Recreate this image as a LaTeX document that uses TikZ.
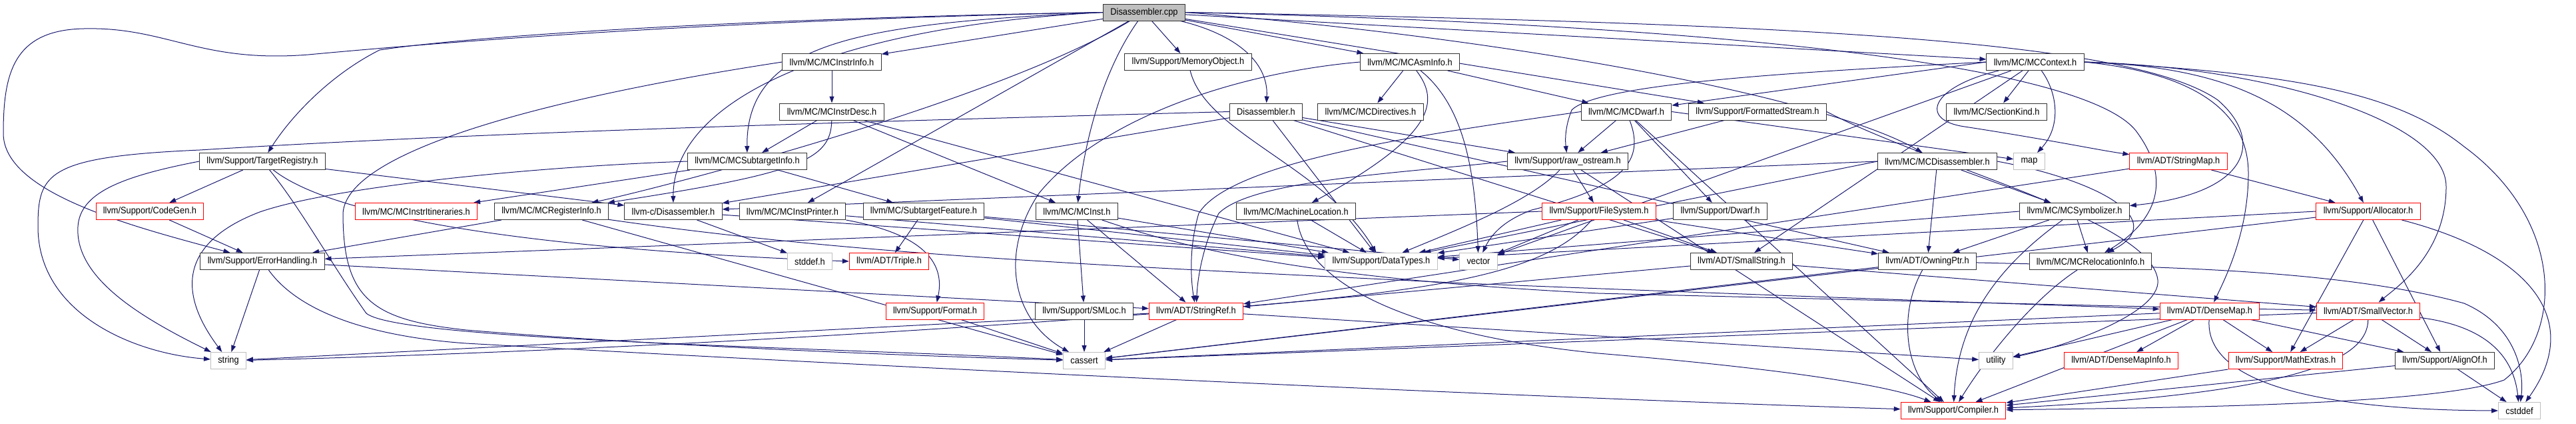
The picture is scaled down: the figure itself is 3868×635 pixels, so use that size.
\documentclass[tikz,border=0pt]{standalone}
\usepackage{fontspec}
\setmainfont[FakeStretch=0.915]{Liberation Sans}
\usepackage{tikz}
\usetikzlibrary{arrows.meta,backgrounds}
\definecolor{incline}{HTML}{191970}
\definecolor{truncred}{HTML}{FF0000}
\definecolor{sysgray}{HTML}{BFBFBF}
\tikzset{
  hdr/.style={draw=black!80, fill=white, line width=1pt, inner xsep=10.8pt, inner ysep=0pt,
    minimum height=25pt, font=\fontsize{14}{14}\selectfont},
  trunc/.style={hdr, draw=truncred},
  syshdr/.style={hdr, draw=sysgray},
  srcfile/.style={hdr, fill=sysgray},
  dep/.style={draw=incline, line width=1pt, -{Triangle[length=10pt,width=7pt]}},
}

\begin{document}
\begin{tikzpicture}[x=1pt,y=-1pt]
  \useasboundingbox (0,0) rectangle (3868,635);

  \node[srcfile] (root) at (1718,18.5) {Disassembler.cpp};

  \node[hdr] (MII) at (1249,93) {llvm/MC/MCInstrInfo.h};
  \node[hdr] (MemObj) at (1784,93) {llvm/Support/MemoryObject.h};
  \node[hdr] (AsmInfo) at (2117,93) {llvm/MC/MCAsmInfo.h};
  \node[hdr] (Ctx) at (3056,93) {llvm/MC/MCContext.h};

  \node[hdr] (Desc) at (1249,167.5) {llvm/MC/MCInstrDesc.h};
  \node[hdr] (DisH) at (1901,167.5) {Disassembler.h};
  \node[hdr] (Dir) at (2058,167.5) {llvm/MC/MCDirectives.h};
  \node[hdr] (Dwarf) at (2442,167.5) {llvm/MC/MCDwarf.h};
  \node[hdr] (FStream) at (2639,167.5) {llvm/Support/FormattedStream.h};
  \node[hdr] (SecKind) at (2998,167.5) {llvm/MC/SectionKind.h};

  \node[hdr] (TReg) at (394,242) {llvm/Support/TargetRegistry.h};
  \node[hdr] (STI) at (1122,242) {llvm/MC/MCSubtargetInfo.h};
  \node[hdr] (ROS) at (2354,242) {llvm/Support/raw\_ostream.h};
  \node[hdr] (MCDis) at (2909,242) {llvm/MC/MCDisassembler.h};
  \node[syshdr] (stdmap) at (3047,242) {map};
  \node[trunc] (SMap) at (3271,242) {llvm/ADT/StringMap.h};

  \node[trunc] (CodeGen) at (225,317) {llvm/Support/CodeGen.h};
  \node[trunc] (Itin) at (625,317) {llvm/MC/MCInstrItineraries.h};
  \node[hdr] (RegInfo) at (828,317) {llvm/MC/MCRegisterInfo.h};
  \node[hdr] (CDis) at (1011,317) {llvm-c/Disassembler.h};
  \node[hdr] (Printer) at (1190,317) {llvm/MC/MCInstPrinter.h};
  \node[hdr] (Feature) at (1387,317) {llvm/MC/SubtargetFeature.h};
  \node[hdr] (Inst) at (1617,317) {llvm/MC/MCInst.h};
  \node[hdr] (MLoc) at (1946,317) {llvm/MC/MachineLocation.h};
  \node[trunc] (FSys) at (2401,317) {llvm/Support/FileSystem.h};
  \node[hdr] (SDwarf) at (2583,317) {llvm/Support/Dwarf.h};
  \node[hdr] (Symb) at (3115,317) {llvm/MC/MCSymbolizer.h};
  \node[trunc] (Alloc) at (3556,317) {llvm/Support/Allocator.h};

  \node[hdr] (ErrH) at (394,392) {llvm/Support/ErrorHandling.h};
  \node[syshdr] (stddefh) at (1216,392) {stddef.h};
  \node[trunc] (Triple) at (1335,392) {llvm/ADT/Triple.h};
  \node[syshdr] (DTypes) at (2074,392) {llvm/Support/DataTypes.h};
  \node[syshdr] (stdvector) at (2220,392) {vector};
  \node[hdr] (SStr) at (2615,392) {llvm/ADT/SmallString.h};
  \node[hdr] (OPtr) at (2894,392) {llvm/ADT/OwningPtr.h};
  \node[hdr] (Reloc) at (3139,392) {llvm/MC/MCRelocationInfo.h};

  \node[trunc] (Format) at (1404,466.5) {llvm/Support/Format.h};
  \node[hdr] (SMLoc) at (1628,466.5) {llvm/Support/SMLoc.h};
  \node[trunc] (SRef) at (1796,466.5) {llvm/ADT/StringRef.h};
  \node[trunc] (DMap) at (3318,466.5) {llvm/ADT/DenseMap.h};
  \node[trunc] (SVec) at (3556,466.5) {llvm/ADT/SmallVector.h};

  \node[syshdr] (stdstring) at (343,541) {string};
  \node[syshdr] (stdcassert) at (1628,541) {cassert};
  \node[syshdr] (stdutility) at (2997,541) {utility};
  \node[trunc] (DMInfo) at (3185,541) {llvm/ADT/DenseMapInfo.h};
  \node[trunc] (MathX) at (3432,541) {llvm/Support/MathExtras.h};
  \node[hdr] (AlignOf) at (3671,541) {llvm/Support/AlignOf.h};

  \node[trunc] (Compiler) at (2933,616) {llvm/Support/Compiler.h};
  \node[syshdr] (stdcstddef) at (3783,616) {cstddef};

  \begin{scope}[on background layer]
    % Disassembler.cpp
    \draw[dep] (root.west) .. controls (1100,28) and (700,55) .. (570,75) .. controls (500,110) and (440,170) .. (TReg);
    \draw[dep] (root.west) .. controls (1100,30) and (700,60) .. (463,82) .. controls (300,95) and (250,40) .. (126,43)
      .. controls (20,45) and (5,110) .. (5,200) .. controls (5,290) and (200,340) .. (ErrH);
    \draw[dep] (root) -- (MII);
    \draw[dep] (root) -- (MemObj);
    \draw[dep] (root) -- (AsmInfo);
    \draw[dep] (root) -- (Ctx);
    \draw[dep] (root) .. controls (1850,50) and (1905,90) .. (DisH);
    \draw[dep] (root.west) .. controls (1300,35) and (1120,60) .. (STI);
    \draw[dep] (root) .. controls (1500,150) and (1000,280) .. (RegInfo);
    \draw[dep] (root.west) .. controls (1250,40) and (1010,150) .. (CDis);
    \draw[dep] (root) -- (Printer);
    \draw[dep] (root) .. controls (1660,100) and (1630,200) .. (Inst);
    \draw[dep] (root) -- (FStream);
    \draw[dep] (root.east) .. controls (2300,60) and (2750,150) .. (MCDis);
    \draw[dep] (root.east) .. controls (2700,35) and (3200,60) .. (3330,150) .. controls (3400,210) and (3380,290) .. (Symb);
    \draw[dep] (root.east) .. controls (2700,40) and (3150,110) .. (3210,200) .. controls (3260,270) and (3240,330) .. (Reloc);
    % first level
    \draw[dep] (MII) -- (Desc);
    \draw[dep] (MII.west) .. controls (800,150) and (520,230) .. (515,320) .. controls (515,450) and (560,480) .. (700,495)
      .. controls (1000,520) and (1400,535) .. (stdcassert);
    \draw[dep] (MemObj) .. controls (1810,200) and (1990,250) .. (DTypes);
    \draw[dep] (AsmInfo) -- (Dir);
    \draw[dep] (AsmInfo) -- (Dwarf);
    \draw[dep] (AsmInfo) .. controls (2160,150) and (2160,200) .. (MLoc);
    \draw[dep] (AsmInfo.west) .. controls (1850,110) and (1650,180) .. (1560,290) .. controls (1500,380) and (1520,480) .. (stdcassert);
    \draw[dep] (AsmInfo) .. controls (2200,160) and (2215,260) .. (stdvector);
    \draw[dep] (Ctx) -- (SecKind);
    \draw[dep] (Ctx) .. controls (3090,140) and (3095,190) .. (stdmap);
    \draw[dep] (Ctx) .. controls (2900,130) and (2880,180) .. (2950,190) .. controls (3080,210) and (3150,225) .. (SMap);
    \draw[dep] (Ctx.west) .. controls (2700,108) and (2400,125) .. (2360,165) .. controls (2350,190) and (2350,210) .. (ROS);
    \draw[dep] (Ctx.west) -- (Dwarf);
    \draw[dep] (Ctx.east) .. controls (3350,100) and (3470,160) .. (Alloc);
    \draw[dep] (Ctx.east) .. controls (3300,110) and (3376,170) .. (3376,260) .. controls (3376,350) and (3340,420) .. (DMap);
    \draw[dep] (Ctx.east) .. controls (3400,100) and (3673,180) .. (3673,280) .. controls (3673,380) and (3600,430) .. (SVec);
    \draw[dep] (Ctx) -- (SStr);
    \draw[dep] (Ctx) -- (stdvector);
    \draw[dep] (Ctx.east) .. controls (3450,110) and (3600,140) .. (3700,220) .. controls (3850,330) and (3850,500) .. (3760,570)
      .. controls (3650,610) and (3200,612) .. (Compiler);
    % second level
    \draw[dep] (Desc) -- (STI);
    \draw[dep] (Desc) .. controls (1248,240) and (1200,260) .. (RegInfo);
    \draw[dep] (Desc) -- (Inst);
    \draw[dep] (Desc) -- (DTypes);
    \draw[dep] (DisH) -- (CDis);
    \draw[dep] (DisH.west) .. controls (1200,185) and (700,200) .. (300,225) .. controls (70,235) and (57,260) .. (57,340)
      .. controls (57,470) and (200,530) .. (stdstring);
    \draw[dep] (DisH) -- (ROS);
    \draw[dep] (DisH) -- (DTypes);
    \draw[dep] (DisH) -- (SStr);
    \draw[dep] (DisH) -- (OPtr);
    \draw[dep] (Dwarf) -- (ROS);
    \draw[dep] (Dwarf) -- (SDwarf);
    \draw[dep] (Dwarf.west) .. controls (2150,200) and (1850,240) .. (1800,320) .. controls (1785,370) and (1788,420) .. (SRef);
    \draw[dep] (Dwarf) .. controls (2470,240) and (2440,280) .. (2300,315) .. controls (2260,330) and (2240,350) .. (stdvector);
    \draw[dep] (Dwarf.east) -- (stdmap);
    \draw[dep] (Dwarf) -- (Compiler);
    \draw[dep] (FStream) -- (ROS);
    \draw[dep] (FStream.east) .. controls (2900,250) and (3230,330) .. (3240,420) .. controls (3245,470) and (3100,520) .. (stdutility);
    % third level
    \draw[dep] (TReg) -- (CodeGen);
    \draw[dep] (TReg) -- (CDis);
    \draw[dep] (TReg) .. controls (480,310) and (700,370) .. (Triple.west);
    \draw[dep] (TReg) .. controls (450,310) and (500,400) .. (550,470) .. controls (600,510) and (1200,520) .. (stdcassert);
    \draw[dep] (TReg.west) .. controls (180,265) and (120,290) .. (117,340) .. controls (112,420) and (220,480) .. (stdstring);
    \draw[dep] (STI) -- (Itin);
    \draw[dep] (STI) -- (Feature);
    \draw[dep] (STI.west) .. controls (800,250) and (500,280) .. (390,318) .. controls (280,360) and (260,430) .. (stdstring);
    \draw[dep] (ROS.west) .. controls (2100,260) and (1880,270) .. (1830,320) .. controls (1805,370) and (1798,420) .. (SRef);
    \draw[dep] (ROS) -- (Compiler);
    \draw[dep] (ROS) .. controls (2300,300) and (2200,340) .. (DTypes);
    \draw[dep] (ROS) -- (FSys);
    \draw[dep] (MCDis) -- (OPtr);
    \draw[dep] (MCDis) -- (Symb);
    \draw[dep] (MCDis.east) .. controls (3150,270) and (3260,330) .. (Reloc);
    \draw[dep] (MCDis.west) -- (DTypes);
    \draw[dep] (MCDis.west) -- (CDis);
    \draw[dep] (SMap) -- (Alloc);
    \draw[dep] (SMap) -- (SRef);
    % fourth level
    \draw[dep] (CodeGen) -- (ErrH);
    \draw[dep] (RegInfo) .. controls (1300,385) and (1700,400) .. (2200,425) .. controls (2700,445) and (3100,458) .. (DMap);
    \draw[dep] (RegInfo) -- (ErrH);
    \draw[dep] (RegInfo) -- (stdcassert);
    \draw[dep] (CDis) -- (DTypes);
    \draw[dep] (CDis) -- (stddefh);
    \draw[dep] (Printer) -- (DTypes);
    \draw[dep] (Printer.south east) .. controls (1380,350) and (1420,390) .. (Format);
    \draw[dep] (Feature) -- (Triple);
    \draw[dep] (Feature) -- (DTypes);
    \draw[dep] (Feature) -- (stdvector);
    \draw[dep] (Inst) -- (SMLoc);
    \draw[dep] (Inst) -- (SRef);
    \draw[dep] (Inst) -- (DTypes);
    \draw[dep] (Inst) .. controls (1800,380) and (2000,420) .. (2400,440) .. controls (3000,455) and (3300,462) .. (SVec);
    \draw[dep] (MLoc) -- (DTypes);
    \draw[dep] (MLoc) .. controls (1960,420) and (2100,500) .. (2400,530) .. controls (2700,555) and (2840,580) .. (Compiler);
    \draw[dep] (FSys) -- (DTypes);
    \draw[dep] (FSys) -- (stdvector);
    \draw[dep] (FSys) -- (SStr);
    \draw[dep] (FSys) -- (OPtr);
    \draw[dep] (FSys.west) -- (ErrH);
    \draw[dep] (FSys) .. controls (2330,400) and (2200,430) .. (1920,455) .. controls (1400,500) and (800,530) .. (stdstring);
    \draw[dep] (SDwarf) -- (DTypes);
    \draw[dep] (Symb) -- (OPtr);
    \draw[dep] (Symb) -- (Reloc);
    \draw[dep] (Symb.west) -- (DTypes);
    \draw[dep] (Symb) .. controls (3000,400) and (2940,480) .. (Compiler);
    \draw[dep] (Alloc) -- (MathX);
    \draw[dep] (Alloc) -- (AlignOf);
    \draw[dep] (Alloc.west) -- (DTypes);
    \draw[dep] (Alloc) -- (stdcassert);
    \draw[dep] (Alloc) .. controls (3800,380) and (3880,480) .. (stdcstddef);
    % fifth level
    \draw[dep] (ErrH) -- (stdstring);
    \draw[dep] (ErrH) -- (SRef);
    \draw[dep] (ErrH) .. controls (450,470) and (560,505) .. (700,515) .. controls (1500,560) and (2400,600) .. (Compiler);
    \draw[dep] (SStr) -- (SVec);
    \draw[dep] (SStr) -- (SRef);
    \draw[dep] (OPtr) .. controls (2850,470) and (2860,560) .. (Compiler);
    \draw[dep] (OPtr) -- (stdcassert);
    \draw[dep] (OPtr) .. controls (3200,400) and (3500,400) .. (3700,455) .. controls (3780,490) and (3790,560) .. (stdcstddef);
    \draw[dep] (Reloc) .. controls (3050,450) and (2980,540) .. (Compiler);
    % sixth level
    \draw[dep] (Format) -- (stdcassert);
    \draw[dep] (SMLoc) -- (stdcassert);
    \draw[dep] (SRef) -- (stdcassert);
    \draw[dep] (SRef) -- (stdstring);
    \draw[dep] (SRef) -- (stdutility);
    \draw[dep] (DMap) -- (DMInfo);
    \draw[dep] (DMap) -- (MathX);
    \draw[dep] (DMap) -- (AlignOf);
    \draw[dep] (DMap) -- (stdcassert);
    \draw[dep] (DMap) -- (stdutility);
    \draw[dep] (DMap) -- (Compiler);
    \draw[dep] (DMap) .. controls (3310,580) and (3500,615) .. (stdcstddef.west);
    \draw[dep] (SVec) -- (MathX);
    \draw[dep] (SVec) -- (AlignOf);
    \draw[dep] (SVec) -- (stdcassert);
    \draw[dep] (SVec) .. controls (3555,540) and (3450,590) .. (Compiler);
    \draw[dep] (SVec) .. controls (3740,490) and (3775,540) .. (stdcstddef);
    % seventh level
    \draw[dep] (MathX) -- (Compiler);
    \draw[dep] (AlignOf) -- (Compiler);
    \draw[dep] (AlignOf) -- (stdcstddef);
  \end{scope}
\end{tikzpicture}
\end{document}
